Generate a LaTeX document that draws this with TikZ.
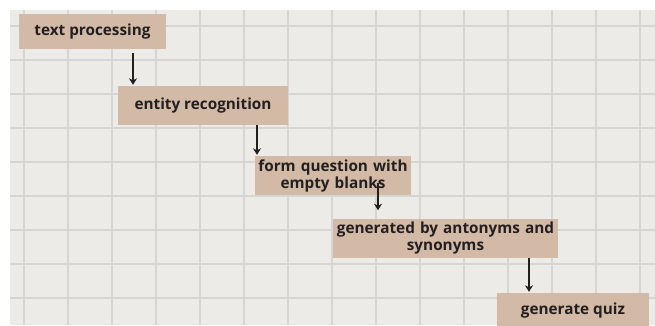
\documentclass[tikz,border=0pt]{standalone}
\usepackage{fontspec}
\setmainfont{Open Sans}
\usetikzlibrary{arrows.meta}
\definecolor{paper}{RGB}{236,235,231}
\definecolor{gridc}{RGB}{213,213,211}
\definecolor{boxc}{RGB}{211,186,166}
\definecolor{inkc}{RGB}{35,31,32}
\tikzset{
  stepbox/.style={fill=boxc, draw=none, inner sep=0pt, font=\bfseries\fontsize{15.3}{17}\selectfont, text=inkc, align=center},
  arr/.style={draw=inkc, line width=2.2pt, -{Stealth[length=6.5pt,width=8pt]}}
}
\begin{document}
\begin{tikzpicture}[x=1pt,y=-1pt]
\useasboundingbox (0,0) rectangle (655,325);
\fill[white] (0,0) rectangle (655,325);
\fill[paper] (10,10) rectangle (655,325);
\begin{scope}
\clip (10,10) rectangle (655,325);
\foreach \i in {0,...,14} \draw[gridc, line width=1.1pt] ({24+44*\i},10) -- ({24+44*\i},325);
\foreach \j in {0,...,8} \draw[gridc, line width=1.1pt] (10,{26+34*\j}) -- (655,{26+34*\j});
\end{scope}
\begin{scope}
\clip (0,0) rectangle (655,325);
\node[stepbox, minimum width=147pt, minimum height=35pt] (t1) at (92.5,31.5) {text processing};
\node[stepbox, minimum width=170pt, minimum height=39pt] (t2) at (203,105.5) {entity recognition};
\node[stepbox, minimum width=156pt, minimum height=39pt, text width=154pt] (t3) at (333,175.5) {form question with\\empty blanks};
\node[stepbox, minimum width=225pt, minimum height=39pt, text width=224pt] (t4) at (445.5,238.5) {generated by antonyms and\\synonyms};
\node[stepbox, minimum width=152pt, minimum height=36pt] (t5) at (573,311) {generate quiz};
\end{scope}
\coordinate (x1) at (133,0);
\coordinate (x2) at (257,0);
\coordinate (x3) at (378,0);
\coordinate (x4) at (529,0);
\draw[arr, shorten <=4pt, shorten >=1pt] (t1.south -| x1) -- (t2.north -| x1);
\draw[arr, shorten <=0pt, shorten >=1pt] (t2.south -| x2) -- (t3.north -| x2);
\draw[arr, shorten <=-12pt, shorten >=-14pt] (t3.south -| x3) -- ([yshift=-1pt]t3.south -| x3);
\draw[arr, shorten <=0pt, shorten >=1pt] (t4.south -| x4) -- (t5.north -| x4);
\end{tikzpicture}
\end{document}
